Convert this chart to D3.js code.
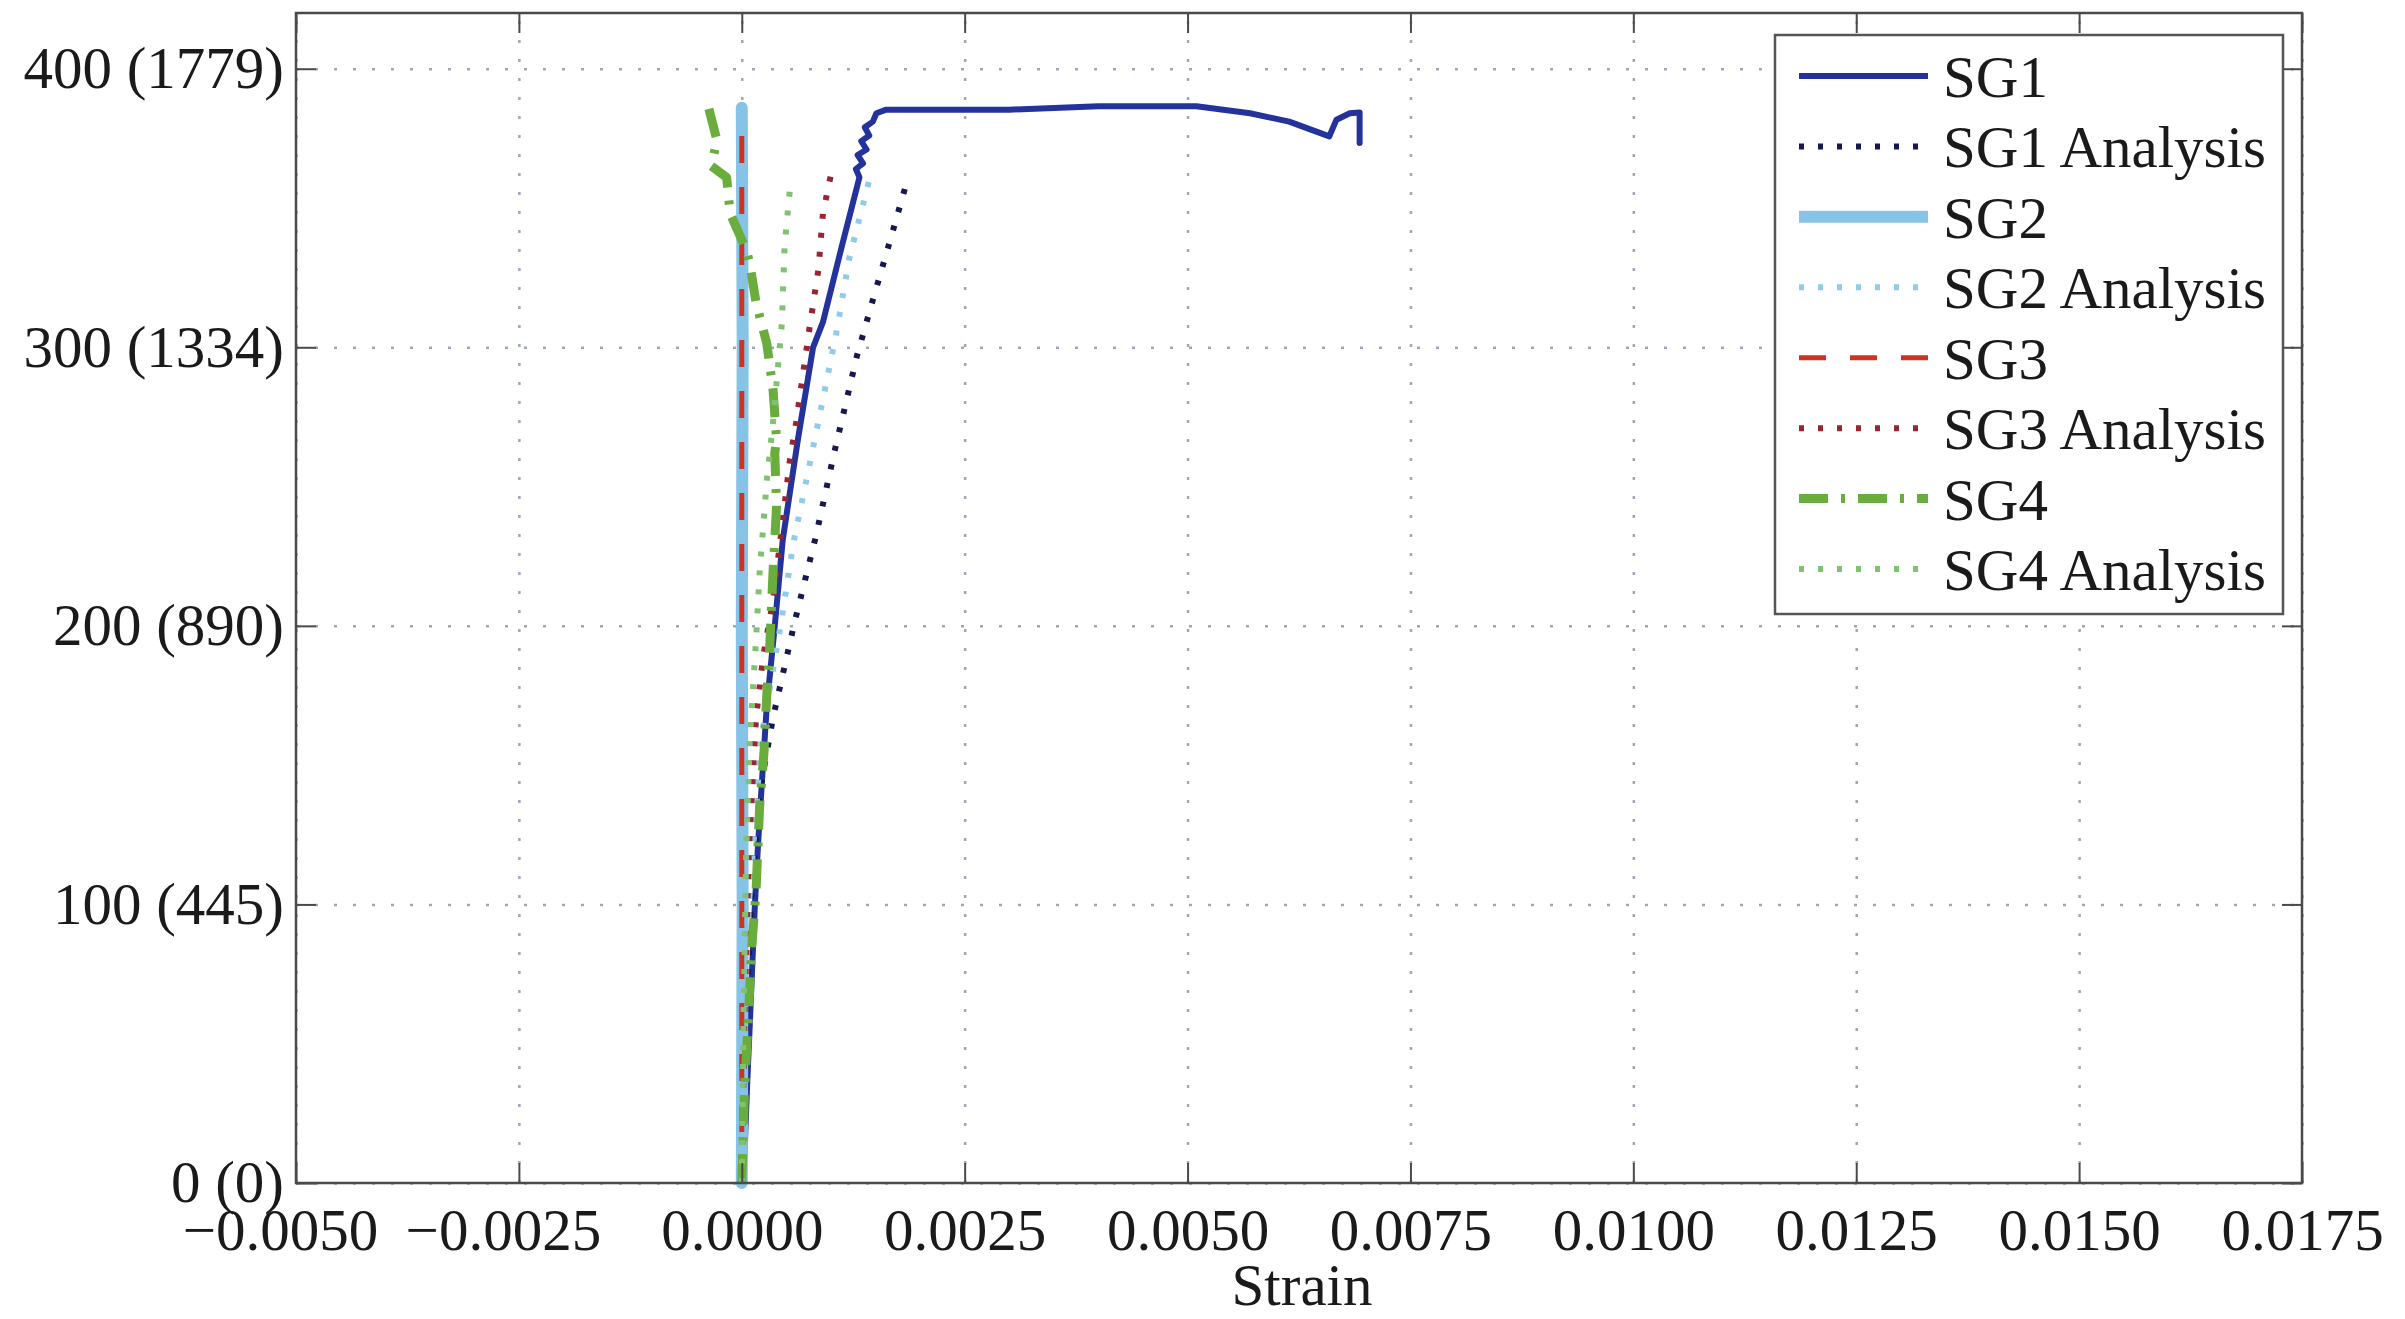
<!DOCTYPE html>
<html>
<head>
<meta charset="utf-8">
<script src="https://cdn.jsdelivr.net/npm/d3@7"></script>
<style>
  html, body { margin: 0; padding: 0; background: #ffffff; }
  svg { display: block; }
  text { font-family: "Liberation Serif", "Times New Roman", serif; fill: #1a1a1a; }
</style>
</head>
<body>
<svg id="chart" width="2405" height="1319"></svg>
<script>
// ---------------- data (strain, load in kips) ----------------
const xTicks = [-0.005, -0.0025, 0, 0.0025, 0.005, 0.0075, 0.01, 0.0125, 0.015, 0.0175];
const xTickLabels = ["\u22120.0050", "\u22120.0025", "0.0000", "0.0025", "0.0050", "0.0075", "0.0100", "0.0125", "0.0150", "0.0175"];
const yTicks = [0, 100, 200, 300, 400];
const yTickLabels = ["0 (0)", "100 (445)", "200 (890)", "300 (1334)", "400 (1779)"];
const xLabel = "Strain";

const sg1 = [[0,0],[0.00003,10],[0.00006,35],[0.00009,57],[0.00012,80],[0.000146,99],[0.00018,120],[0.00022,141],
  [0.00028,171],[0.00037,200],[0.00046,231],[0.00063,267],[0.0008,300],[0.00091,309],[0.00112,336],[0.00132,361],
  [0.00128,364],[0.00136,366],[0.0013,369],[0.0014,371],[0.00134,374],[0.00143,376],[0.00138,379],[0.00147,381],
  [0.00151,384],[0.00162,385.3],[0.003,385.3],
  [0.004,386.5],[0.0051,386.5],[0.0057,384],[0.00614,381],[0.00659,375.7],[0.00667,381.7],[0.00682,384],
  [0.00693,384.3],[0.00693,373.3]];
const sg1Analysis = [[0,0],[0.00004,50],[0.0001,100],[0.0002,140],[0.00035,167],[0.00059,201],[0.00083,232],
  [0.00104,262.6],[0.00129,296.7],[0.00147,317],[0.00165,336.8],[0.00183,357]];
const sg2 = [[0,0],[0.00001,100],[0,200],[0.00001,300],[0,386]];
const sg2Analysis = [[0,0],[0.00003,60],[0.00008,100],[0.00022,160],[0.00044,201],[0.00058,230],[0.0008,264],
  [0.00106,305],[0.00121,332.6],[0.00143,360]];
const sg3 = [[0,0],[0,383]];
const sg3Analysis = [[0,0],[0.00003,60],[0.00008,120],[0.00016,167],[0.00024,189],[0.00035,209],[0.00046,238],
  [0.00054,259.6],[0.00061,273],[0.00076,307],[0.00086,328],[0.00091,348],[0.001,362]];
const sg4 = [[0,0],[0.00003,33],[0.00007,57],[0.00011,84],[0.00016,105],[0.0002,135],[0.00025,155],[0.00028,175],
  [0.00031,190],[0.00035,219],[0.00039,243],[0.00037,262],[0.00039,267],[0.00035,285],[0.00028,301.5],
  [0.00016,316],[0.00009,330],[0.00005,335],[-0.00013,348],[-0.00017,361],[-0.00034,365],[-0.00028,374.5],
  [-0.00038,387]];
const sg4Analysis = [[0,0],[0.00002,60],[0.00005,120],[0.00009,159],[0.00016,195],[0.0002,219],[0.00028,252],
  [0.00035,272.8],[0.00045,308.7],[0.00048,336],[0.00054,357]];

const seriesNames = ["SG1", "SG1 Analysis", "SG2", "SG2 Analysis", "SG3", "SG3 Analysis", "SG4", "SG4 Analysis"];
const seriesData = [sg1, sg1Analysis, sg2, sg2Analysis, sg3, sg3Analysis, sg4, sg4Analysis];

// ---------------- styles ----------------
const styles = [
  { color: "#24339c", width: 6,   dash: null },
  { color: "#16184f", width: 6,   dash: "5,14" },
  { color: "#86c3e6", width: 12,  dash: null },
  { color: "#8fcbea", width: 6,   dash: "5,14" },
  { color: "#cc3322", width: 5,   dash: "27,24" },
  { color: "#9a2433", width: 6,   dash: "5,14" },
  { color: "#6aad3c", width: 9,   dash: "29,13,4,13" },
  { color: "#80c272", width: 6,   dash: "5,14" }
];

const W = 2405, H = 1319;
const plot = { left: 296, right: 2302, top: 13, bottom: 1183 };
const FONT = 59;

const svg = d3.select("#chart");
svg.append("rect").attr("width", W).attr("height", H).attr("fill", "#ffffff");

const x = d3.scaleLinear().domain([-0.005, 0.0175]).range([plot.left, plot.right]);
const y = d3.scaleLinear().domain([0, 420]).range([plot.bottom, plot.top]);

// plot background
svg.append("rect").attr("x", plot.left).attr("y", plot.top)
  .attr("width", plot.right - plot.left).attr("height", plot.bottom - plot.top)
  .attr("fill", "#ffffff");

// grid
const gridColor = "#9ea7b8";
const gx = svg.append("g").attr("transform", `translate(0,${plot.bottom})`)
  .call(d3.axisBottom(x).tickValues(xTicks).tickSize(-(plot.bottom - plot.top)).tickFormat(""));
gx.select(".domain").remove();
gx.selectAll(".tick line").attr("stroke", gridColor).attr("stroke-width", 2.5).attr("stroke-dasharray", "3,16");
const gy = svg.append("g").attr("transform", `translate(${plot.left},0)`)
  .call(d3.axisLeft(y).tickValues(yTicks).tickSize(-(plot.right - plot.left)).tickFormat(""));
gy.select(".domain").remove();
gy.selectAll(".tick line").attr("stroke", gridColor).attr("stroke-width", 2.5).attr("stroke-dasharray", "3,16");

// series
const line = d3.line().x(d => x(d[0])).y(d => y(d[1]));
const gLines = svg.append("g");
seriesData.forEach((data, i) => {
  const s = styles[i];
  gLines.append("path").datum(data)
    .attr("d", line)
    .attr("fill", "none")
    .attr("stroke", s.color)
    .attr("stroke-width", s.width)
    .attr("stroke-linejoin", "round")
    .attr("stroke-linecap", s.dash ? "butt" : "round")
    .attr("stroke-dasharray", s.dash);
});

// axes (inward ticks on all sides)
const axisColor = "#4a4a4a";
const tickLen = 20;
const axB = svg.append("g").attr("transform", `translate(0,${plot.bottom})`)
  .call(d3.axisBottom(x).tickValues(xTicks).tickSize(-tickLen).tickPadding(25)
    .tickFormat((d, i) => xTickLabels[i]));
axB.select(".domain").remove();
axB.selectAll(".tick line").attr("stroke", axisColor).attr("stroke-width", 2);
axB.selectAll(".tick text").attr("font-size", FONT)
  .attr("font-family", "Liberation Serif").attr("fill", "#1a1a1a")
  .attr("dx", d => d < 0 ? -16 : 0);

const axL = svg.append("g").attr("transform", `translate(${plot.left},0)`)
  .call(d3.axisLeft(y).tickValues(yTicks).tickSize(-tickLen).tickPadding(12)
    .tickFormat((d, i) => yTickLabels[i]));
axL.select(".domain").remove();
axL.selectAll(".tick line").attr("stroke", axisColor).attr("stroke-width", 2);
axL.selectAll(".tick text").attr("font-size", FONT)
  .attr("font-family", "Liberation Serif").attr("fill", "#1a1a1a");

const axT = svg.append("g").attr("transform", `translate(0,${plot.top})`)
  .call(d3.axisTop(x).tickValues(xTicks).tickSize(-tickLen).tickFormat(""));
axT.select(".domain").remove();
axT.selectAll(".tick line").attr("stroke", axisColor).attr("stroke-width", 2);

const axR = svg.append("g").attr("transform", `translate(${plot.right},0)`)
  .call(d3.axisRight(y).tickValues(yTicks).tickSize(-tickLen).tickFormat(""));
axR.select(".domain").remove();
axR.selectAll(".tick line").attr("stroke", axisColor).attr("stroke-width", 2);

// border
svg.append("rect").attr("x", plot.left).attr("y", plot.top)
  .attr("width", plot.right - plot.left).attr("height", plot.bottom - plot.top)
  .attr("fill", "none").attr("stroke", axisColor).attr("stroke-width", 2.5);

// x label
svg.append("text").attr("x", 1302).attr("y", 1305).attr("text-anchor", "middle")
  .attr("font-size", FONT).text(xLabel);

// legend
const leg = { x0: 1775, y0: 35, x1: 2283, y1: 614 };
const lg = svg.append("g");
lg.append("rect").attr("x", leg.x0).attr("y", leg.y0)
  .attr("width", leg.x1 - leg.x0).attr("height", leg.y1 - leg.y0)
  .attr("fill", "#ffffff").attr("stroke", "#555555").attr("stroke-width", 2.5);
const rowY = d3.scaleLinear().domain([0, seriesNames.length - 1]).range([76, 569]);
seriesNames.forEach((name, i) => {
  const s = styles[i];
  const yy = rowY(i);
  lg.append("line").attr("x1", 1799).attr("x2", 1928).attr("y1", yy).attr("y2", yy)
    .attr("stroke", s.color).attr("stroke-width", s.width)
    .attr("stroke-linecap", "butt")
    .attr("stroke-dasharray", s.dash);
  lg.append("text").attr("x", 1943).attr("y", yy + 21).attr("font-size", FONT).text(name);
});
</script>
</body>
</html>
